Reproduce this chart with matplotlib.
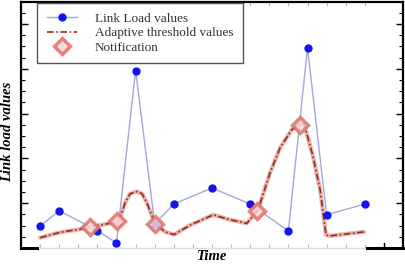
import matplotlib.pyplot as plt
import numpy as np

plt.rcParams['font.family'] = ['Liberation Serif', 'DejaVu Serif']

# link load samples (time index, value)
load_t = [0, 1, 3, 4, 5, 6, 7, 9, 11, 13, 14, 15, 17]
load_v = [0.49, 0.83, 0.39, 0.11, 3.96, 0.54, 0.98, 1.34, 0.98, 0.38, 4.47, 0.74, 0.98]

# adaptive threshold curve
thr_t = [0, 1.05, 2.09, 2.65, 3.14, 4.02, 4.25, 4.45, 4.71, 5.06, 5.34, 5.59, 5.8, 6.02,
         6.54, 7.02, 7.85, 9.06, 9.95, 10.82, 11.41, 12.04, 12.57, 13.18, 13.61, 13.82,
         14.29, 14.66, 14.97, 15.18, 16.96]
thr_v = [0.23, 0.35, 0.42, 0.48, 0.51, 0.58, 0.75, 1.01, 1.21, 1.26, 1.21, 1.01, 0.78, 0.55,
         0.36, 0.30, 0.51, 0.74, 0.63, 0.55, 0.85, 1.68, 2.24, 2.64, 2.77, 2.77,
         2.04, 1.30, 0.29, 0.27, 0.36]

# notifications
note_t = [2.62, 4.03, 6.02, 11.36, 13.6]
note_v = [0.46, 0.60, 0.54, 0.83, 2.75]

W, H = 406, 264
fig = plt.figure(figsize=(W / 100, H / 100), dpi=100)
ax = fig.add_axes([21 / W, 1 - 248 / H, 382 / W, 246.5 / H])

ln_load, = ax.plot(load_t, load_v, color='#a3a7dc', lw=1.0, marker='o', ms=5,
                   mfc='#1414f0', mec='#1414f0', zorder=3)
ax.plot(thr_t, thr_v, color='#e7b3ab', lw=3.0, solid_capstyle='round', zorder=2)
ln_thr, = ax.plot(thr_t, thr_v, color='#9c2a22', lw=1.2, ls=(0, (4, 1.5, 1, 1.5)), zorder=2)
ln_note, = ax.plot(note_t, note_v, ls='none', marker='D', ms=8, mfc='#f6d8d4',
                   mec='#e07068', mew=2.5, alpha=0.85, zorder=4)

ax.set_xlim(-1, 19)
ax.set_ylim(0, 5.5)

# axis frame
for s in ['left', 'top', 'right']:
    ax.spines[s].set_linewidth(1.6)
    ax.spines[s].set_color('black')
ax.spines['bottom'].set_visible(False)
xt = ax.get_xaxis_transform()
ax.plot([-1, -0.15], [0, 0], color='black', lw=2.2, transform=xt, clip_on=False)
ax.plot([0, 17], [0, 0], color='#dcdcdc', lw=1.0, transform=xt, clip_on=False)
ax.plot([17.1, 19], [0, 0], color='black', lw=2.2, transform=xt, clip_on=False)

ax.set_xticks(np.arange(0, 18))
ax.set_yticks(np.arange(0, 6))
ax.set_yticks(np.arange(0, 5.5, 0.25), minor=True)
ax.tick_params(axis='y', which='major', direction='in', length=5, width=1,
               left=True, right=True, labelleft=False)
ax.tick_params(axis='y', which='minor', direction='in', length=3, width=0.8,
               left=True, right=True)
ax.tick_params(axis='x', which='major', direction='in', length=3, width=0.8,
               bottom=True, top=True, labelbottom=False, color='#b8b8b8')
for t in ax.xaxis.get_major_ticks():
    t.tick2line.set_color('black')
ax.plot([18, 18], [0, 0.02], color='black', lw=1, transform=xt, clip_on=False)

fig.text(8 / W, 1 - 132 / H, 'Link load values', rotation=90, ha='center', va='center',
         fontsize=10.5, fontweight='bold', fontstyle='italic')
fig.text(212 / W, 1 - 263.5 / H, 'Time', ha='center', va='bottom',
         fontsize=10.5, fontweight='bold', fontstyle='italic')

leg = ax.legend([ln_load, ln_thr, ln_note],
                ['Link Load values', 'Adaptive threshold values', 'Notification'],
                loc='upper left', bbox_to_anchor=(0.042, 0.994), borderaxespad=0,
                fontsize=9.5, fancybox=False, framealpha=1, edgecolor='#555555',
                handlelength=2.3, handletextpad=1.35, labelspacing=0.15,
                borderpad=0.75)
leg.get_frame().set_linewidth(1.0)
for txt in leg.get_texts():
    txt.set_color('#333333')

fig.savefig('out.png', dpi=100)
